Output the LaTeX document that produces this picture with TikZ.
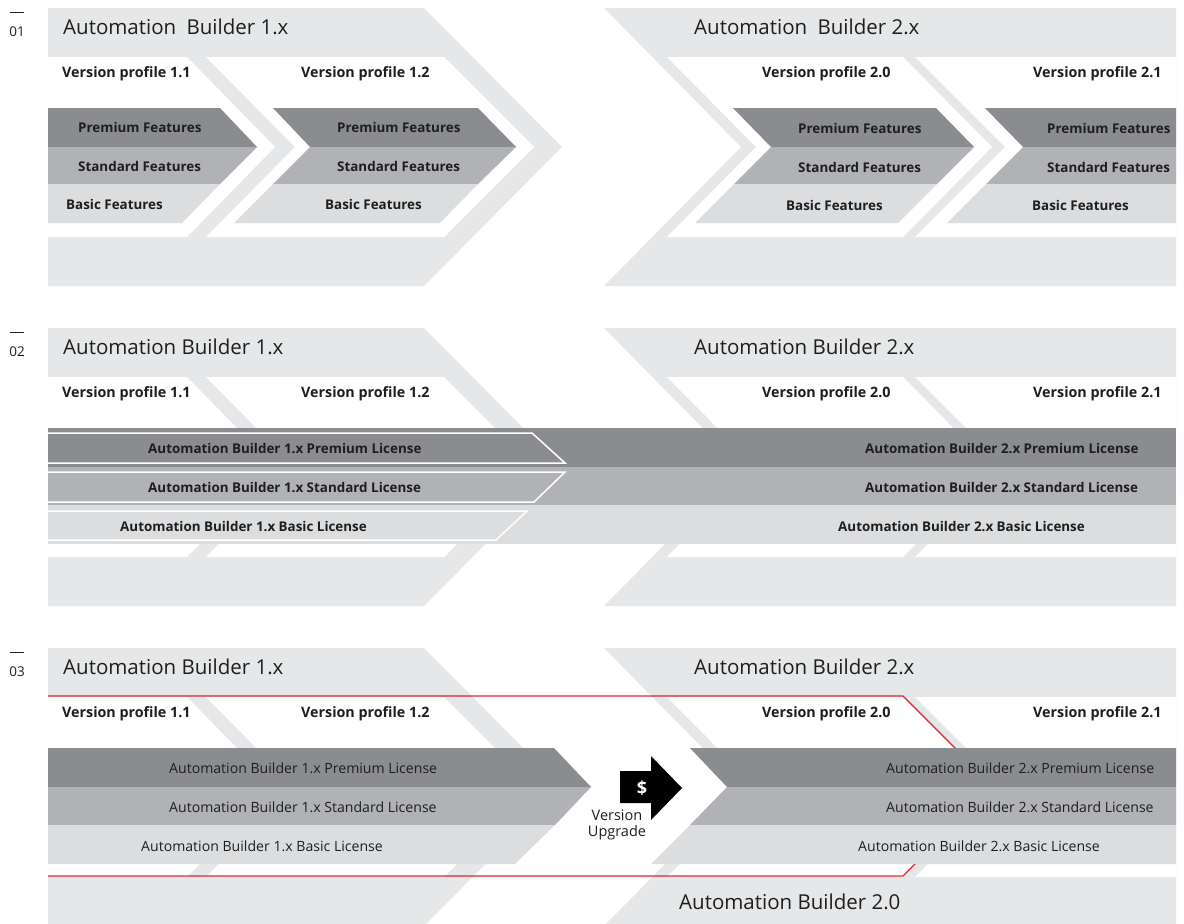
\documentclass[tikz,border=0pt]{standalone}
\usepackage{fontspec}
\setmainfont{Open Sans}

\definecolor{abbouter}{HTML}{E6E7E8}
\definecolor{abbprem}{HTML}{8B8C8F}
\definecolor{abbstd}{HTML}{B1B2B5}
\definecolor{abbbasic}{HTML}{DCDDDF}
\definecolor{abbred}{HTML}{E8222A}
\definecolor{abbtext}{HTML}{1E1E1E}

\tikzset{
  outer/.style={fill=abbouter},
  profile/.style={fill=white},
  prem/.style={fill=abbprem},
  std/.style={fill=abbstd},
  basic/.style={fill=abbbasic},
  txt/.style={inner sep=0pt, text=abbtext},
  title/.style={txt, anchor=west, font=\fontsize{20.5}{20.5}\selectfont},
  vlabel/.style={txt, anchor=west, font=\fontsize{14.3}{14.3}\selectfont\bfseries},
  flabel/.style={txt, anchor=west, font=\fontsize{13.4}{13.4}\selectfont\bfseries},
  llabel/.style={txt, anchor=west, font=\fontsize{14.1}{14.1}\selectfont},
  num/.style={txt, font=\fontsize{13.5}{13.5}\selectfont},
  lic1/.style={draw=white, line width=1.5pt}
}

% outer chevrons, version profiles and the texts that every panel has
\newcommand{\abbase}[3]{%
  \fill[outer] (48,8) -- (424,8) -- (562,147) -- (424,286) -- (48,286) -- cycle;
  \fill[outer] (604,8) -- (1176,8) -- (1176,286) -- (604,286) -- (741,147) -- cycle;
  \fill[profile] (48,57) -- (187,57) -- (275,147) -- (187,237) -- (48,237) -- cycle;
  \fill[profile] (206,57) -- (444,57) -- (534,147) -- (444,237) -- (206,237) -- (295,147) -- cycle;
  \fill[profile] (667,57) -- (903,57) -- (992,147) -- (903,237) -- (667,237) -- (756,147) -- cycle;
  \fill[profile] (915,57) -- (1176,57) -- (1176,237) -- (915,237) -- (1005,147) -- cycle;
  \node[num] (#1-dash) at (17,12.5) {\rule{14pt}{1.1pt}};
  \node[num] (#1-num) at (17,32) {#2};
  \node[title] (#1-ab1) at (63,27) {Automation\hspace{#3} Builder 1.x};
  \node[title] (#1-ab2) at (694,27) {Automation\hspace{#3} Builder 2.x};
  \node[vlabel] (#1-v11) at (62,73.5) {Version profile 1.1};
  \node[vlabel] (#1-v12) at (301,73.5) {Version profile 1.2};
  \node[vlabel] (#1-v20) at (762,74) {Version profile 2.0};
  \node[vlabel] (#1-v21) at (1033,74) {Version profile 2.1};
}

\begin{document}
\begin{tikzpicture}[x=1pt, y=-1pt]
  \clip (0,0) rectangle (1184,924);
  \fill[white] (0,0) rectangle (1184,924);

  % 01: features per version profile
  \begin{scope}
    \abbase{p1}{01}{5pt}
    \fill[prem] (48,108) -- (220,108) -- (257,147) -- (48,147) -- cycle;
    \fill[std] (48,147) -- (257,147) -- (220,184) -- (48,184) -- cycle;
    \fill[basic] (48,184) -- (220,184) -- (182,223) -- (48,223) -- cycle;
    \fill[prem] (273,108) -- (478,108) -- (516,147) -- (310,147) -- cycle;
    \fill[std] (310,147) -- (516,147) -- (478,184) -- (273,184) -- cycle;
    \fill[basic] (273,184) -- (478,184) -- (440,223) -- (234,223) -- cycle;
    \fill[prem] (733,108) -- (936,108) -- (974,147) -- (771,147) -- cycle;
    \fill[std] (771,147) -- (974,147) -- (937,184) -- (734,184) -- cycle;
    \fill[basic] (734,184) -- (937,184) -- (898,223) -- (695,223) -- cycle;
    \fill[prem] (985,108) -- (1176,108) -- (1176,147) -- (1023,147) -- cycle;
    \fill[std] (1023,147) -- (1176,147) -- (1176,184) -- (986,184) -- cycle;
    \fill[basic] (986,184) -- (1176,184) -- (1176,223) -- (947,223) -- cycle;
    \node[flabel] (p1-prem11) at (78,127) {Premium Features};
    \node[flabel] (p1-std11) at (78,166) {Standard Features};
    \node[flabel] (p1-bas11) at (66,204) {Basic Features};
    \node[flabel] (p1-prem12) at (337,127) {Premium Features};
    \node[flabel] (p1-std12) at (337,166) {Standard Features};
    \node[flabel] (p1-bas12) at (325,204) {Basic Features};
    \node[flabel] (p1-prem20) at (798,128) {Premium Features};
    \node[flabel] (p1-std20) at (798,167) {Standard Features};
    \node[flabel] (p1-bas20) at (786,205) {Basic Features};
    \node[flabel] (p1-prem21) at (1047,128) {Premium Features};
    \node[flabel] (p1-std21) at (1047,167) {Standard Features};
    \node[flabel] (p1-bas21) at (1032,205) {Basic Features};
  \end{scope}

  % 02: licenses over all profiles
  \begin{scope}[shift={(0,320)}]
    \abbase{p2}{02}{0pt}
    \fill[prem] (48,108) rectangle (1176,147);
    \fill[std] (48,147) rectangle (1176,185);
    \fill[basic] (48,185) rectangle (1176,224);
    \filldraw[prem, lic1] (48,113) -- (532,113) -- (565,143) -- (48,143);
    \filldraw[std, lic1] (48,152) -- (565,152) -- (534,182) -- (48,182);
    \filldraw[basic, lic1] (48,191) -- (527,191) -- (496,220) -- (48,220);
    \node[flabel] (p2-prem1) at (148,128) {Automation Builder 1.x Premium License};
    \node[flabel] (p2-std1) at (148,167) {Automation Builder 1.x Standard License};
    \node[flabel] (p2-bas1) at (120,206) {Automation Builder 1.x Basic License};
    \node[flabel] (p2-prem2) at (865,128) {Automation Builder 2.x Premium License};
    \node[flabel] (p2-std2) at (865,167) {Automation Builder 2.x Standard License};
    \node[flabel] (p2-bas2) at (838,206) {Automation Builder 2.x Basic License};
  \end{scope}

  % 03: version upgrade
  \begin{scope}[shift={(0,640)}]
    \abbase{p3}{03}{0pt}
    \draw[abbred, line width=1.2pt] (48,56) -- (903,56) -- (993,146) -- (903,236) -- (48,236);
    \fill[prem] (48,108) -- (554,108) -- (591,147) -- (48,147) -- cycle;
    \fill[std] (48,147) -- (591,147) -- (555,185) -- (48,185) -- cycle;
    \fill[basic] (48,185) -- (555,185) -- (515,224) -- (48,224) -- cycle;
    \fill[prem] (690,108) -- (1176,108) -- (1176,147) -- (727,147) -- cycle;
    \fill[std] (727,147) -- (1176,147) -- (1176,185) -- (690,185) -- cycle;
    \fill[basic] (690,185) -- (1176,185) -- (1176,224) -- (651,224) -- cycle;
    \fill[black] (620,131) -- (651,131) -- (651,116) -- (682,148) -- (651,180) -- (651,163) -- (620,163) -- cycle;
    \node[txt, text=white, font=\fontsize{18}{18}\selectfont\bfseries] (p3-dollar) at (642,148) {\$};
    \node[num, font=\fontsize{14.5}{14.5}\selectfont] (p3-up1) at (617,175) {Version};
    \node[num, font=\fontsize{14.5}{14.5}\selectfont] (p3-up2) at (617,193) {Upgrade};
    \node[llabel] (p3-prem1) at (169,128) {Automation Builder 1.x Premium License};
    \node[llabel] (p3-std1) at (169,167) {Automation Builder 1.x Standard License};
    \node[llabel] (p3-bas1) at (141,206) {Automation Builder 1.x Basic License};
    \node[llabel] (p3-prem2) at (886,128) {Automation Builder 2.x Premium License};
    \node[llabel] (p3-std2) at (886,167) {Automation Builder 2.x Standard License};
    \node[llabel] (p3-bas2) at (858,206) {Automation Builder 2.x Basic License};
    \node[title] (p3-ab20) at (679,262) {Automation Builder 2.0};
  \end{scope}
\end{tikzpicture}
\end{document}
